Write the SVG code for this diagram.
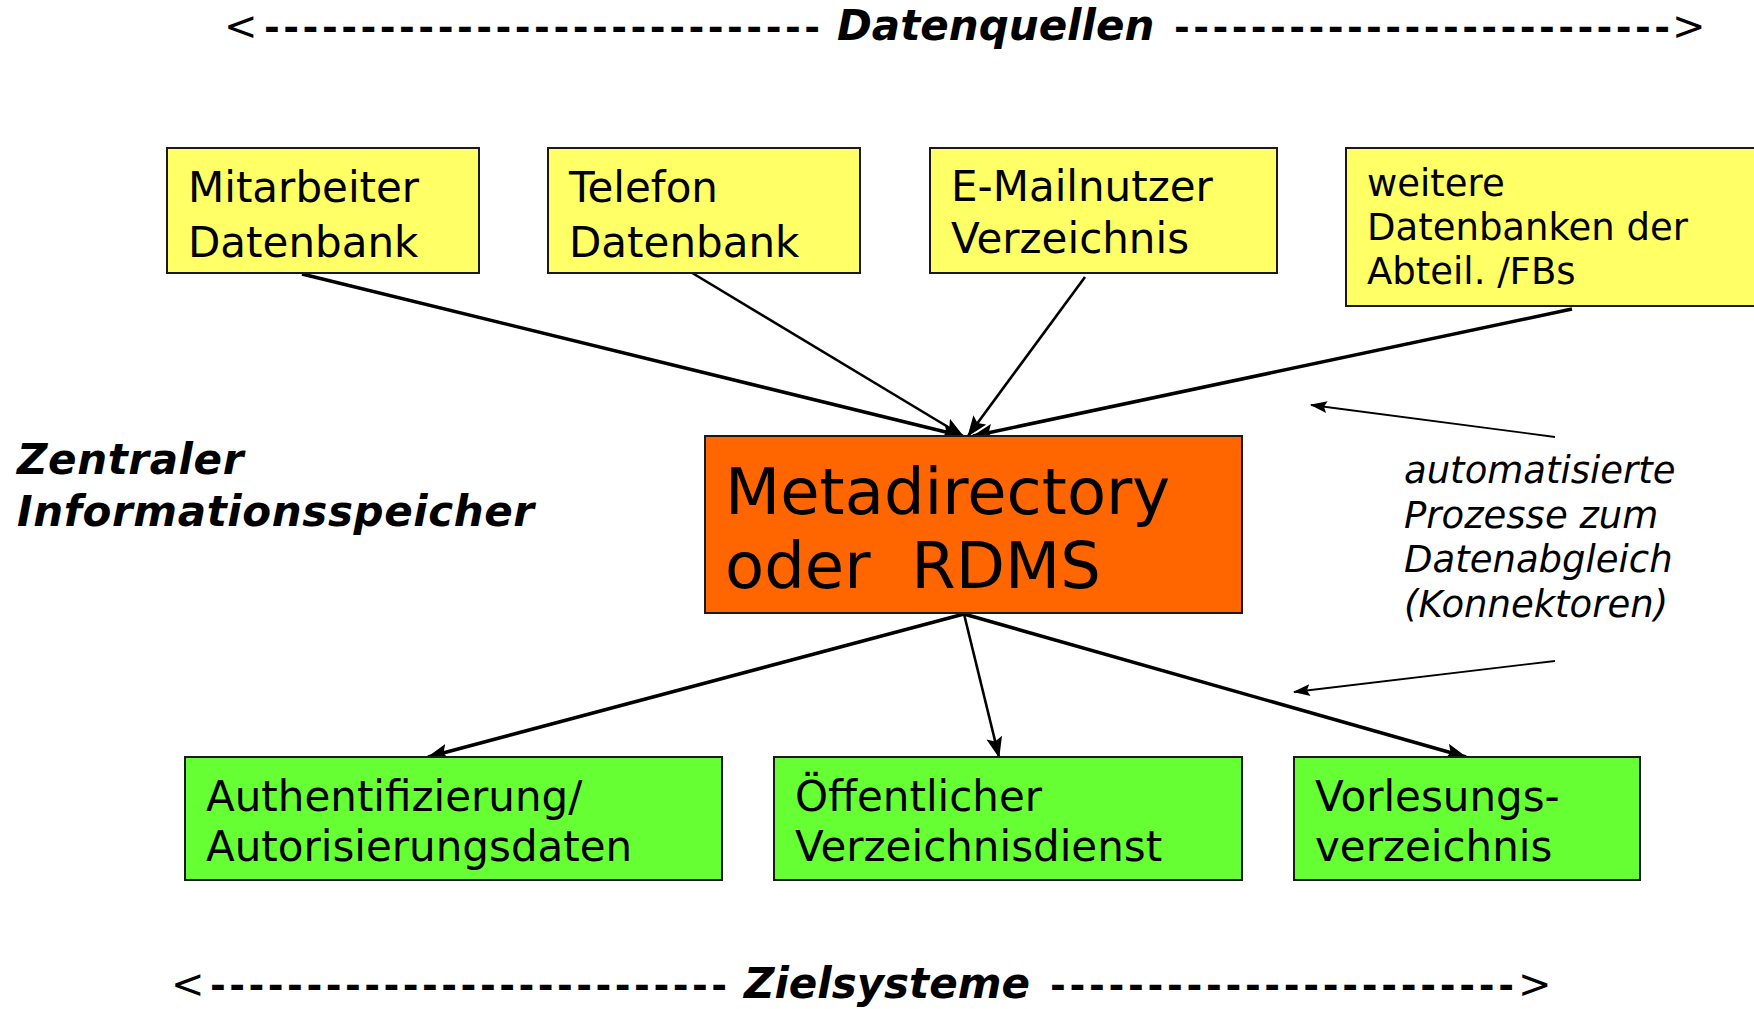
<svg xmlns="http://www.w3.org/2000/svg" width="1754" height="1009" viewBox="0 0 1754 1009">
  <style>
    .lbl { font-family: "DejaVu Sans", Verdana, sans-serif; fill: #000; }
    .src rect { fill: #FFFF66; stroke: #1a1a1a; stroke-width: 2; }
    .dst rect { fill: #66FF33; stroke: #1a1a1a; stroke-width: 2; }
    .core rect { fill: #FF6600; stroke: #1a1a1a; stroke-width: 2; }
    .t42 { font-size: 42px; }
    .t37 { font-size: 37px; }
    .t64 { font-size: 64px; }
    .head { font-size: 42px; font-weight: bold; font-style: oblique; }
    .dash { font-size: 38px; font-weight: bold; }
    .brk { font-size: 40px; }
    .note { font-size: 37px; font-style: oblique; }
    .side { font-size: 42px; font-weight: bold; font-style: oblique; letter-spacing: 0.6px; }
    .conn line { stroke: #000; fill: none; }
    .w35 { stroke-width: 3.5; }
    .w25 { stroke-width: 2.6; }
    .w18 { stroke-width: 1.8; }
  </style>
  <defs>
    <marker id="arrow" markerUnits="userSpaceOnUse" markerWidth="22" markerHeight="16" refX="20" refY="8" orient="auto">
      <path d="M0,0 L21,8 L0,16 L4,8 z" fill="#000"/>
    </marker>
    <marker id="arrowThin" markerUnits="userSpaceOnUse" markerWidth="18" markerHeight="12" refX="16" refY="6" orient="auto">
      <path d="M0,0 L17,6 L0,12 L3,6 z" fill="#000"/>
    </marker>
  </defs>

  <rect x="0" y="0" width="1754" height="1009" fill="#fff"/>

  <!-- header: data sources -->
  <g id="header-sources" class="lbl">
    <text class="brk" x="224" y="40">&lt;</text>
    <text class="dash" x="264" y="40" textLength="556" lengthAdjust="spacing">-----------------------------</text>
    <text class="head" x="837" y="40">Datenquellen</text>
    <text class="dash" x="1174" y="40" textLength="496" lengthAdjust="spacing">--------------------------</text>
    <text class="brk" x="1672" y="40">&gt;</text>
  </g>

  <!-- side label -->
  <g id="label-store" class="lbl">
    <text class="side" x="17" y="474">Zentraler</text>
    <text class="side" x="17" y="526">Informationsspeicher</text>
  </g>

  <!-- annotation for the connectors -->
  <g id="label-processes" class="lbl">
    <text class="note" x="1404" y="483">automatisierte</text>
    <text class="note" x="1404" y="528">Prozesse zum</text>
    <text class="note" x="1404" y="572">Datenabgleich</text>
    <text class="note" x="1404" y="617">(Konnektoren)</text>
  </g>

  <!-- connectors -->
  <g id="connectors" class="conn">
    <line class="w35" x1="302" y1="274" x2="962" y2="436" marker-end="url(#arrow)"/>
    <line class="w25" x1="684" y1="268" x2="963" y2="436" marker-end="url(#arrow)"/>
    <line class="w25" x1="1085" y1="277" x2="968" y2="436" marker-end="url(#arrow)"/>
    <line class="w35" x1="1572" y1="309" x2="973" y2="436" marker-end="url(#arrow)"/>
    <line class="w35" x1="964" y1="614" x2="428" y2="757" marker-end="url(#arrow)"/>
    <line class="w25" x1="964" y1="614" x2="999" y2="757" marker-end="url(#arrow)"/>
    <line class="w35" x1="964" y1="614" x2="1466" y2="757" marker-end="url(#arrow)"/>
    <line class="w18" x1="1555" y1="437" x2="1311" y2="405" marker-end="url(#arrowThin)"/>
    <line class="w18" x1="1555" y1="661" x2="1294" y2="692" marker-end="url(#arrowThin)"/>
  </g>

  <!-- data sources -->
  <g id="node-mitarbeiter" class="src lbl">
    <rect x="167" y="148" width="312" height="125"/>
    <text class="t42" x="188" y="202">Mitarbeiter</text>
    <text class="t42" x="188" y="257">Datenbank</text>
  </g>
  <g id="node-telefon" class="src lbl">
    <rect x="548" y="148" width="312" height="125"/>
    <text class="t42" x="569" y="202">Telefon</text>
    <text class="t42" x="569" y="257">Datenbank</text>
  </g>
  <g id="node-email" class="src lbl">
    <rect x="930" y="148" width="347" height="125"/>
    <text class="t42" x="951" y="201">E-Mailnutzer</text>
    <text class="t42" x="951" y="253">Verzeichnis</text>
  </g>
  <g id="node-weitere" class="src lbl">
    <rect x="1346" y="148" width="420" height="158"/>
    <text class="t37" x="1367" y="196">weitere</text>
    <text class="t37" x="1367" y="240">Datenbanken der</text>
    <text class="t37" x="1367" y="284">Abteil. /FBs</text>
  </g>

  <!-- central store -->
  <g id="node-metadirectory" class="core lbl">
    <rect x="705" y="436" width="537" height="177"/>
    <text class="t64" x="725" y="514">Metadirectory</text>
    <text class="t64" x="725" y="588" xml:space="preserve">oder  RDMS</text>
  </g>

  <!-- target systems -->
  <g id="node-auth" class="dst lbl">
    <rect x="185" y="757" width="537" height="123"/>
    <text class="t42" x="206" y="811">Authentifizierung/</text>
    <text class="t42" x="206" y="861">Autorisierungsdaten</text>
  </g>
  <g id="node-verzeichnisdienst" class="dst lbl">
    <rect x="774" y="757" width="468" height="123"/>
    <text class="t42" x="795" y="811">Öffentlicher</text>
    <text class="t42" x="795" y="861">Verzeichnisdienst</text>
  </g>
  <g id="node-vorlesung" class="dst lbl">
    <rect x="1294" y="757" width="346" height="123"/>
    <text class="t42" x="1315" y="811">Vorlesungs-</text>
    <text class="t42" x="1315" y="861">verzeichnis</text>
  </g>

  <!-- footer: target systems -->
  <g id="footer-targets" class="lbl">
    <text class="brk" x="171" y="998">&lt;</text>
    <text class="dash" x="210" y="998" textLength="517" lengthAdjust="spacing">---------------------------</text>
    <text class="head" x="744" y="998">Zielsysteme</text>
    <text class="dash" x="1050" y="998" textLength="464" lengthAdjust="spacing">------------------------</text>
    <text class="brk" x="1518" y="998">&gt;</text>
  </g>
</svg>
